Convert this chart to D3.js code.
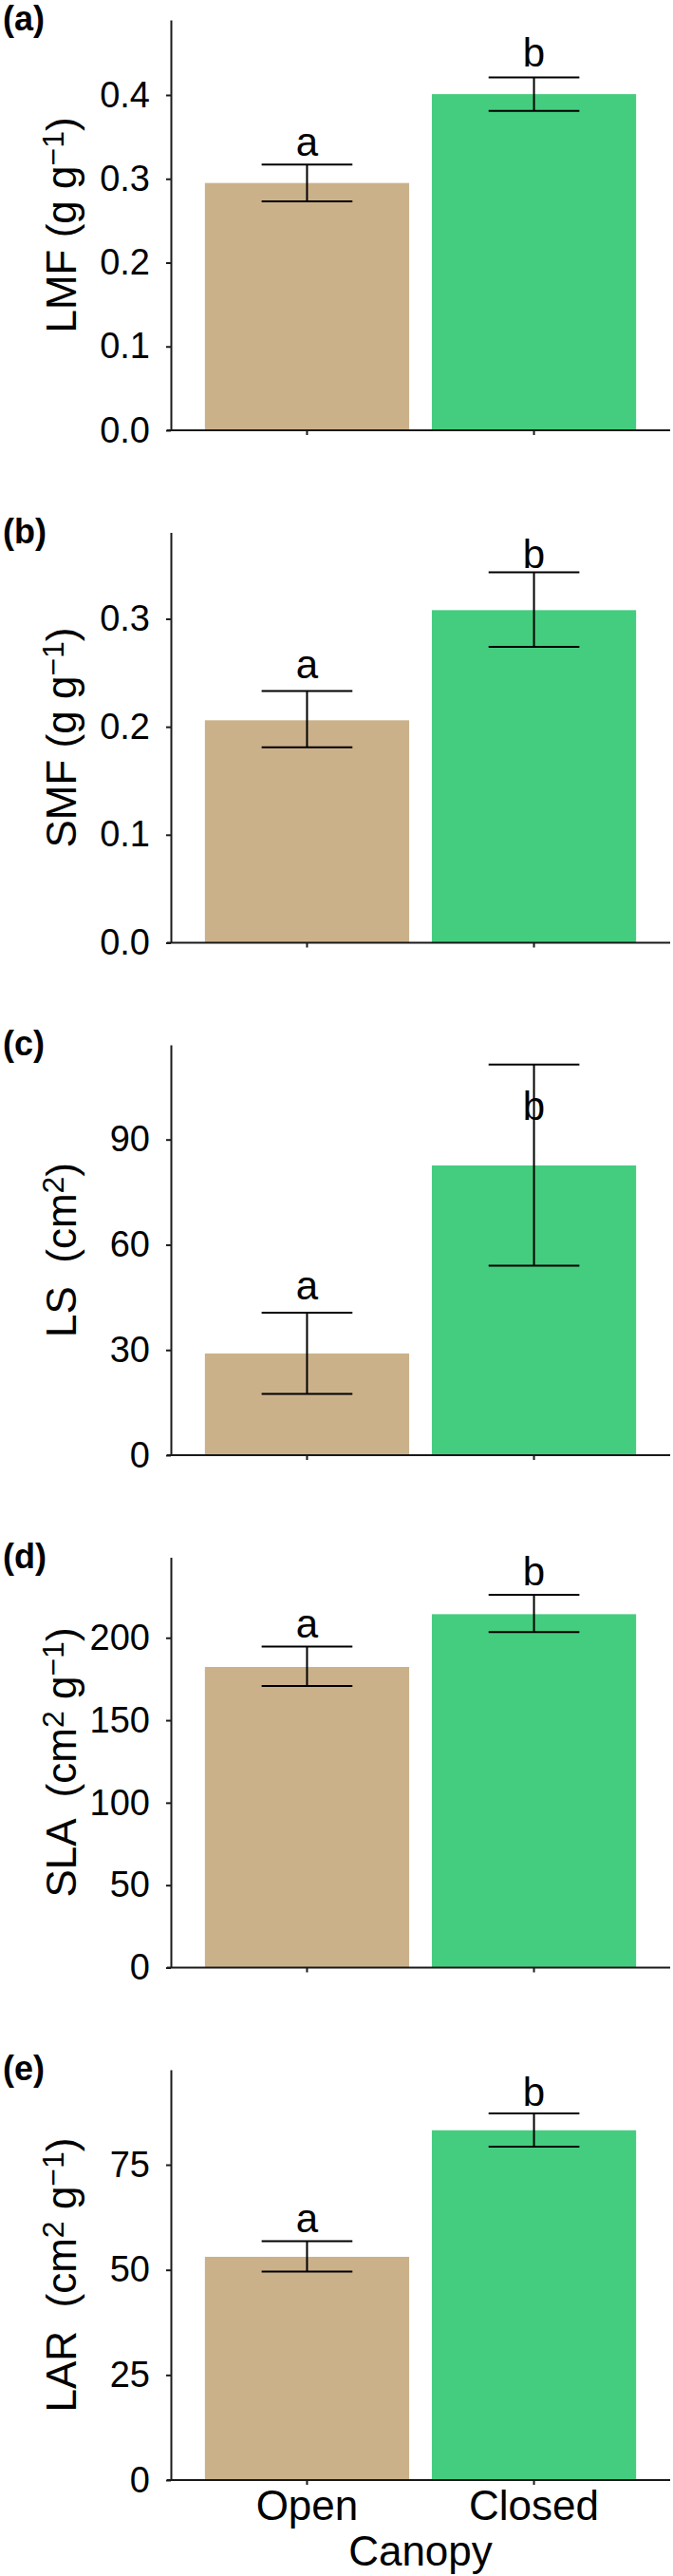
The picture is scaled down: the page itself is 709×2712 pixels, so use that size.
<!DOCTYPE html>
<html lang="en">
<head>
<meta charset="UTF-8">
<title>Canopy traits</title>
<script src="https://cdn.jsdelivr.net/npm/d3@7"></script>
<style>
    body { margin: 0; background: #fff; }
    svg { display: block; font-family: "Liberation Sans", Arial, sans-serif; }
    .axis path, .axis line { stroke: #1a1a1a; stroke-width: 2px; }
    .axis text { font-size: 38px; fill: #000; font-family: "Liberation Sans", Arial, sans-serif; }
    .err { stroke: #000; stroke-width: 2px; }
</style>
</head>
<body>
<script>
    // canopy groups and bar colours
    const groups = ["Open", "Closed"];
    const barColors = ["#cbb18a", "#44cd7f"];
    const letters = ["a", "b"];

    // panel tags and y axis titles
    const panelTags = ["(a)", "(b)", "(c)", "(d)", "(e)"];
    const traitNames = ["LMF ", "SMF ", "LS  ", "SLA  ", "LAR  "];

    // values: mean, lower and upper error limits, letter heights
    const lmfMean = [0.295, 0.401], lmfLow = [0.273, 0.381], lmfHigh = [0.317, 0.421], lmfLetterY = [0.327, 0.434];
    const smfMean = [0.206, 0.308], smfLow = [0.181, 0.274], smfHigh = [0.233, 0.343], smfLetterY = [0.245, 0.347];
    const lsMean = [29.0, 82.6], lsLow = [17.5, 54.0], lsHigh = [40.6, 111.4], lsLetterY = [44.5, 95.6];
    const slaMean = [182.3, 214.3], slaLow = [170.8, 203.4], slaHigh = [194.6, 226.0], slaLetterY = [200, 231.7];
    const larMean = [53.1, 83.2], larLow = [49.6, 79.3], larHigh = [56.8, 87.2], larLetterY = [58.9, 89.0];

    // y axis ticks and upper limits
    const lmfTicks = [0, 0.1, 0.2, 0.3, 0.4];
    const smfTicks = [0, 0.1, 0.2, 0.3];
    const lsTicks = [0, 30, 60, 90];
    const slaTicks = [0, 50, 100, 150, 200];
    const larTicks = [0, 25, 50, 75];
    const yMaxes = [0.4895, 0.380, 117, 248.8, 97.6];

    const panels = [
        { mean: lmfMean, low: lmfLow, high: lmfHigh, ly: lmfLetterY, ticks: lmfTicks, fmt: d3.format(".1f"), unit: [["(g g", 0], ["\u22121", 1], [")", 0]] },
        { mean: smfMean, low: smfLow, high: smfHigh, ly: smfLetterY, ticks: smfTicks, fmt: d3.format(".1f"), unit: [["(g g", 0], ["\u22121", 1], [")", 0]] },
        { mean: lsMean, low: lsLow, high: lsHigh, ly: lsLetterY, ticks: lsTicks, fmt: d3.format("d"), unit: [["(cm", 0], ["2", 1], [")", 0]] },
        { mean: slaMean, low: slaLow, high: slaHigh, ly: slaLetterY, ticks: slaTicks, fmt: d3.format("d"), unit: [["(cm", 0], ["2", 1], [" g", 0], ["\u22121", 1], [")", 0]] },
        { mean: larMean, low: larLow, high: larHigh, ly: larLetterY, ticks: larTicks, fmt: d3.format("d"), unit: [["(cm", 0], ["2", 1], [" g", 0], ["\u22121", 1], [")", 0]] }
    ];

    const width = 709, height = 2712;
    const left = 180, right = 706, plotH = 432, firstTop = 21, panelStep = 539.5;
    const titleSize = 44, supSize = 32;

    const svg = d3.select("body").append("svg")
        .attr("width", width)
        .attr("height", height);

    const x = d3.scaleBand()
        .domain(groups)
        .range([left, right])
        .paddingInner(0.1)
        .paddingOuter(0.15);
    const capW = x.step() * 0.4;

    panels.forEach((p, i) => {
        const top = firstTop + panelStep * i;
        const g = svg.append("g").attr("transform", `translate(0,${top})`);
        const y = d3.scaleLinear().domain([0, yMaxes[i]]).range([plotH, 0]);

        // bars
        g.selectAll(".bar")
            .data(groups)
            .enter().append("rect")
            .attr("class", "bar")
            .attr("x", d => x(d))
            .attr("width", x.bandwidth())
            .attr("y", (d, j) => y(p.mean[j]))
            .attr("height", (d, j) => y(0) - y(p.mean[j]))
            .attr("fill", (d, j) => barColors[j]);

        // error bars
        const eb = g.selectAll(".eb")
            .data(groups)
            .enter().append("g")
            .attr("class", "eb")
            .attr("transform", d => `translate(${x(d) + x.bandwidth() / 2},0)`);
        eb.append("line").attr("class", "err")
            .attr("y1", (d, j) => y(p.low[j])).attr("y2", (d, j) => y(p.high[j]));
        eb.append("line").attr("class", "err")
            .attr("x1", -capW / 2).attr("x2", capW / 2)
            .attr("y1", (d, j) => y(p.high[j])).attr("y2", (d, j) => y(p.high[j]));
        eb.append("line").attr("class", "err")
            .attr("x1", -capW / 2).attr("x2", capW / 2)
            .attr("y1", (d, j) => y(p.low[j])).attr("y2", (d, j) => y(p.low[j]));

        // significance letters
        g.selectAll(".letter")
            .data(groups)
            .enter().append("text")
            .attr("class", "letter")
            .attr("x", d => x(d) + x.bandwidth() / 2)
            .attr("y", (d, j) => y(p.ly[j]))
            .attr("text-anchor", "middle")
            .style("font-size", "42px")
            .text((d, j) => letters[j]);

        // y axis
        g.append("g")
            .attr("class", "axis")
            .attr("transform", `translate(${left},0)`)
            .call(d3.axisLeft(y).tickValues(p.ticks).tickFormat(p.fmt).tickSize(5).tickSizeOuter(0).tickPadding(17));

        // x axis
        const xa = g.append("g")
            .attr("class", "axis")
            .attr("transform", `translate(0,${plotH})`)
            .call(d3.axisBottom(x).tickSize(5).tickSizeOuter(0).tickPadding(6));
        xa.select(".domain").attr("d", `M${left - 4},0H${right}`);
        if (i < panels.length - 1) {
            xa.selectAll(".tick text").remove();
        } else {
            xa.selectAll(".tick text").style("font-size", "44px");
        }

        // y axis title with superscripts
        const t = g.append("text")
            .attr("transform", `translate(80,${plotH / 2}) rotate(-90)`)
            .attr("text-anchor", "middle")
            .style("font-size", titleSize + "px")
            .style("white-space", "pre");
        t.append("tspan").text(traitNames[i]);
        p.unit.forEach((u, k) => {
            const prev = k > 0 ? p.unit[k - 1][1] : 0;
            const shift = u[1] === prev ? 0 : (u[1] ? -13 : 13);
            t.append("tspan")
                .attr("dy", shift)
                .style("font-size", (u[1] ? supSize : titleSize) + "px")
                .text(u[0]);
        });

        // panel tag
        svg.append("text")
            .attr("x", 3)
            .attr("y", top + 11)
            .style("font-size", "36px")
            .style("font-weight", "bold")
            .text(panelTags[i]);
    });

    // x axis title
    svg.append("text")
        .attr("x", (left + right) / 2)
        .attr("y", 2701)
        .attr("text-anchor", "middle")
        .style("font-size", "44px")
        .text("Canopy");
</script>
</body>
</html>
